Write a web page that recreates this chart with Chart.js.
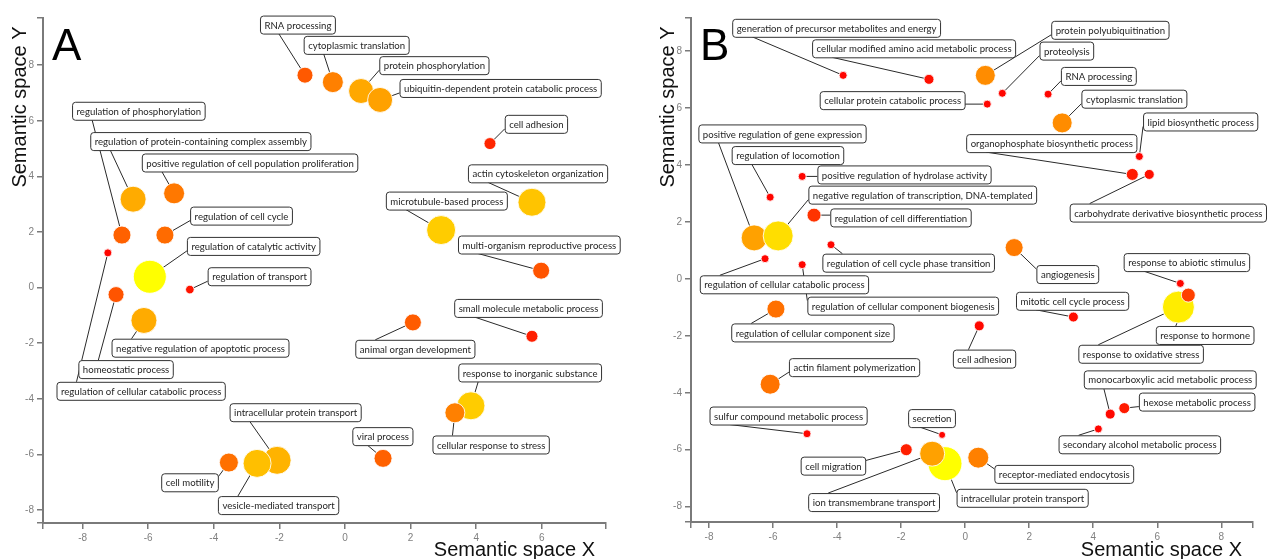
<!DOCTYPE html>
<html>
<head>
<meta charset="utf-8">
<script src="https://cdn.jsdelivr.net/npm/chart.js@4.4.1/dist/chart.umd.min.js"></script>
<style>
  html, body { margin: 0; padding: 0; background: #fff; }
  #wrap { position: relative; width: 1276px; height: 559px; }
  .panel { position: absolute; top: 0; width: 638px; height: 559px; }
</style>
</head>
<body>
<div id="wrap">
  <div class="panel" style="left:0"><canvas id="chartA" width="638" height="559"></canvas></div>
  <div class="panel" style="left:638px"><canvas id="chartB" width="638" height="559"></canvas></div>
</div>
<script>
// ---- panel A ----
const termsA = ['RNA processing', 'cytoplasmic translation', 'protein phosphorylation',
  'ubiquitin-dependent protein catabolic process', 'cell adhesion', 'actin cytoskeleton organization',
  'microtubule-based process', 'multi-organism reproductive process', 'regulation of phosphorylation',
  'regulation of protein-containing complex assembly', 'positive regulation of cell population proliferation',
  'regulation of cell cycle', 'regulation of catalytic activity', 'regulation of cellular catabolic process',
  'regulation of transport', 'homeostatic process', 'negative regulation of apoptotic process',
  'cell motility', 'intracellular protein transport', 'vesicle-mediated transport',
  'animal organ development', 'small molecule metabolic process', 'response to inorganic substance',
  'cellular response to stress', 'viral process'];
const xA = [-1.22, -0.37, 0.49, 1.07, 4.42, 5.70, 2.93, 5.98, -6.80, -6.46, -5.21, -5.49, -5.95, -7.23,
  -4.73, -6.98, -6.13, -3.54, -2.07, -2.68, 2.07, 5.70, 3.84, 3.35, 1.16];
const yA = [7.64, 7.39, 7.07, 6.75, 5.18, 3.07, 2.07, 0.61, 1.89, 3.18, 3.39, 1.89, 0.39, 1.25,
  -0.07, -0.25, -1.18, -6.29, -6.21, -6.32, -1.25, -1.75, -4.25, -4.50, -6.14];
const sizeA = [8, 10.5, 12.5, 12.5, 6, 14, 14.5, 8.5, 9, 13, 10.5, 9, 16.5, 4, 4.3, 8, 13, 9.5, 14, 14,
  8.5, 6, 14, 10, 9];
const scoreA = [0.35, 0.5, 0.66, 0.63, 0.15, 0.77, 0.8, 0.33, 0.38, 0.67, 0.47, 0.42, 1.0, 0.02, 0.08,
  0.33, 0.67, 0.44, 0.7, 0.75, 0.36, 0.12, 0.8, 0.5, 0.38];
const xTicksA = [-8, -6, -4, -2, 0, 2, 4, 6];
const yTicksA = [-8, -6, -4, -2, 0, 2, 4, 6, 8];

// ---- panel B ----
const termsB = ['generation of precursor metabolites and energy', 'cellular modified amino acid metabolic process',
  'cellular protein catabolic process', 'protein polyubiquitination', 'proteolysis', 'RNA processing',
  'cytoplasmic translation', 'lipid biosynthetic process', 'organophosphate biosynthetic process',
  'carbohydrate derivative biosynthetic process', 'positive regulation of gene expression',
  'regulation of locomotion', 'positive regulation of hydrolase activity',
  'negative regulation of transcription, DNA-templated', 'regulation of cell differentiation',
  'regulation of cell cycle phase transition', 'regulation of cellular component biogenesis',
  'regulation of cellular catabolic process', 'angiogenesis', 'response to abiotic stimulus',
  'regulation of cellular component size', 'actin filament polymerization', 'sulfur compound metabolic process',
  'secretion', 'cell migration', 'intracellular protein transport', 'ion transmembrane transport',
  'receptor-mediated endocytosis', 'cell adhesion', 'mitotic cell cycle process', 'response to oxidative stress',
  'response to hormone', 'monocarboxylic acid metabolic process', 'hexose metabolic process',
  'secondary alcohol metabolic process'];
const xB = [-3.81, -1.13, 0.69, 0.63, 1.16, 2.59, 3.03, 5.44, 5.22, 5.75, -6.59, -6.09, -5.09, -5.84, -4.72,
  -4.19, -5.09, -6.25, 1.53, 6.72, -5.91, -6.09, -4.94, -0.72, -1.84, -0.63, -1.03, 0.41, 0.44, 3.38,
  6.66, 6.97, 4.53, 4.97, 4.16];
const yB = [7.15, 7.01, 6.14, 7.15, 6.52, 6.49, 5.48, 4.30, 3.67, 3.67, 1.44, 2.87, 3.60, 1.51, 2.24,
  1.20, 0.50, 0.71, 1.10, -0.16, -1.06, -3.70, -5.44, -5.48, -6.00, -6.49, -6.14, -6.28, -1.65, -1.34,
  -0.99, -0.57, -4.75, -4.54, -5.27];
const sizeB = [4, 5, 4, 10, 4, 4, 10, 4, 6, 5, 13, 4, 4, 15, 7, 4, 4, 4, 9, 4, 9, 10, 4, 3.5, 6, 17, 12.5,
  10.5, 5, 5, 16, 7, 5, 5.5, 4];
const scoreB = [0.02, 0.06, 0.02, 0.55, 0.02, 0.02, 0.55, 0.02, 0.1, 0.06, 0.63, 0.02, 0.02, 0.87, 0.2,
  0.02, 0.02, 0.02, 0.48, 0.02, 0.44, 0.45, 0.02, 0.02, 0.12, 1.0, 0.63, 0.5, 0.03, 0.05, 0.93, 0.25,
  0.03, 0.1, 0.02];
const xTicksB = [-8, -6, -4, -2, 0, 2, 4, 6, 8];
const yTicksB = [-8, -6, -4, -2, 0, 2, 4, 6, 8];

// label box centres (data units) - layout only
const labelPosA = [[-1.45, 9.46], [0.34, 8.73], [2.71, 8.0], [4.73, 7.18], [5.82, 5.89], [5.87, 4.11],
  [3.09, 3.13], [5.91, 1.55], [-6.30, 6.36], [-4.41, 5.27], [-2.91, 4.5], [-3.17, 2.59], [-2.80, 1.5],
  [-6.23, -3.71], [-2.62, 0.41], [-6.69, -2.93], [-4.42, -2.16], [-4.74, -7.0], [-1.52, -4.48],
  [-2.04, -7.82], [2.13, -2.2], [5.58, -0.73], [5.63, -3.05], [4.44, -5.64], [1.14, -5.34]];
const labelPosB = [[-4.03, 8.82], [-1.61, 8.10], [-2.28, 6.28], [4.52, 8.75], [3.16, 8.02], [4.16, 7.13],
  [5.27, 6.33], [7.34, 5.53], [2.69, 4.77], [6.33, 2.33], [-5.72, 5.11], [-5.55, 4.35], [-1.91, 3.67],
  [-1.34, 2.96], [-2.02, 2.16], [-1.78, 0.57], [-1.95, -0.94], [-5.66, -0.19], [3.19, 0.17], [6.91, 0.59],
  [-4.77, -1.88], [-3.47, -3.10], [-5.53, -4.8], [-1.05, -4.89], [-4.13, -6.56], [1.78, -7.69],
  [-2.86, -7.84], [3.08, -6.85], [0.59, -2.8], [3.34, -0.77], [5.48, -2.63], [7.48, -1.97], [6.39, -3.53],
  [7.23, -4.31], [5.44, -5.81]];

const LABEL_FONT = '9.6px Lato, "Open Sans", sans-serif';
const AXIS_FONT = '"Liberation Sans", Arial, sans-serif';

function bubbleColor(s) {
  return 'rgb(255,' + Math.round(255 * s) + ',0)';
}

function labelBoxes(chart, o) {
  const ctx = chart.ctx;
  const xs = chart.scales.x, ys = chart.scales.y;
  const pts = chart.getDatasetMeta(0).data;
  ctx.font = LABEL_FONT;
  return o.terms.map((t, i) => {
    const w = ctx.measureText(t).width + 8, h = 18;
    const cx = xs.getPixelForValue(o.pos[i][0]), cy = ys.getPixelForValue(o.pos[i][1]);
    const left = cx - w / 2, top = cy - h / 2;
    const bx = pts[i].x, by = pts[i].y;
    let ax, ay;
    if (bx < left) { ax = left; ay = Math.min(Math.max(by, top + 4), top + h - 4); }
    else if (bx > left + w) { ax = left + w; ay = Math.min(Math.max(by, top + 4), top + h - 4); }
    else { ax = left + Math.min(20, w / 4); ay = by > top ? top + h : top; }
    return {t, left, top, w, h, cx, cy, ax, ay, bx, by};
  });
}

const labelPlugin = {
  id: 'goLabels',
  beforeDatasetsDraw(chart, args, o) {
    const ctx = chart.ctx;
    ctx.save();
    ctx.strokeStyle = '#2a2a2a';
    ctx.lineWidth = 1;
    labelBoxes(chart, o).forEach(b => {
      ctx.beginPath();
      ctx.moveTo(b.ax, b.ay);
      ctx.lineTo(b.bx, b.by);
      ctx.stroke();
    });
    ctx.restore();
  },
  afterDatasetsDraw(chart, args, o) {
    const ctx = chart.ctx;
    ctx.save();
    labelBoxes(chart, o).forEach(b => {
      ctx.beginPath();
      ctx.roundRect(b.left + 0.5, b.top + 0.5, b.w, b.h, 3);
      ctx.fillStyle = '#fff';
      ctx.fill();
      ctx.strokeStyle = '#333';
      ctx.lineWidth = 1;
      ctx.stroke();
      ctx.fillStyle = '#1e1e1e';
      ctx.font = LABEL_FONT;
      ctx.textAlign = 'center';
      ctx.textBaseline = 'middle';
      ctx.fillText(b.t, b.cx + 0.5, b.cy + 1);
    });
    ctx.restore();
  },
  afterDraw(chart, args, o) {
    const ctx = chart.ctx, area = chart.chartArea;
    ctx.save();
    ctx.fillStyle = '#111';
    ctx.font = '20px ' + AXIS_FONT;
    ctx.textAlign = 'right';
    ctx.textBaseline = 'alphabetic';
    ctx.fillText('Semantic space X', area.right - 11, 556);
    ctx.translate(area.left - 17, 107);
    ctx.rotate(-Math.PI / 2);
    ctx.textAlign = 'center';
    ctx.fillText('Semantic space Y', 0, 0);
    ctx.restore();
    ctx.save();
    ctx.fillStyle = '#000';
    ctx.font = '44px ' + AXIS_FONT;
    ctx.textAlign = 'left';
    ctx.textBaseline = 'alphabetic';
    ctx.fillText(o.letter, area.left + 9, 60);
    ctx.restore();
  }
};

function axis(min, max, vals, fitSize, horizontal) {
  return {
    type: 'linear', min, max,
    border: {display: true, color: '#7a7a7a', width: 2},
    grid: {display: true, drawOnChartArea: false, drawTicks: true, tickLength: 6, color: '#7a7a7a', lineWidth: 1.5},
    ticks: {
      autoSkip: false, padding: 3, color: '#808080',
      font: {family: AXIS_FONT, size: 10},
      callback: v => vals.includes(v) ? String(v) : ''
    },
    afterBuildTicks: s => { s.ticks = [min].concat(vals, [max]).map(v => ({value: v})); },
    afterFit: s => { if (horizontal) s.height = fitSize; else s.width = fitSize; }
  };
}

function makeChart(id, letter, terms, xs, ys, sizes, scores, pos, xr, yr, xt, yt, pad) {
  return new Chart(document.getElementById(id), {
    type: 'bubble',
    data: {
      datasets: [{
        data: terms.map((t, i) => ({x: xs[i], y: ys[i], r: sizes[i]})),
        backgroundColor: scores.map(bubbleColor),
        borderColor: 'rgba(255,255,255,0.85)',
        borderWidth: 1
      }]
    },
    options: {
      responsive: false,
      animation: false,
      layout: {padding: {top: pad.top, right: pad.right, left: 0, bottom: 0}},
      plugins: {
        legend: {display: false},
        tooltip: {enabled: false},
        goLabels: {terms, pos, letter}
      },
      scales: {
        x: axis(xr[0], xr[1], xt, pad.bottom, true),
        y: axis(yr[0], yr[1], yt, pad.left, false)
      }
    },
    plugins: [labelPlugin]
  });
}

makeChart('chartA', 'A', termsA, xA, yA, sizeA, scoreA, labelPosA,
  [-9.207, 7.957], [-8.464, 9.714], xTicksA, yTicksA, {top: 14, right: 32, bottom: 36, left: 43});
makeChart('chartB', 'B', termsB, xB, yB, sizeB, scoreB, labelPosB,
  [-8.5625, 8.99], [-8.54, 9.165], xTicksB, yTicksB, {top: 13, right: 23, bottom: 37, left: 53});
</script>
</body>
</html>
